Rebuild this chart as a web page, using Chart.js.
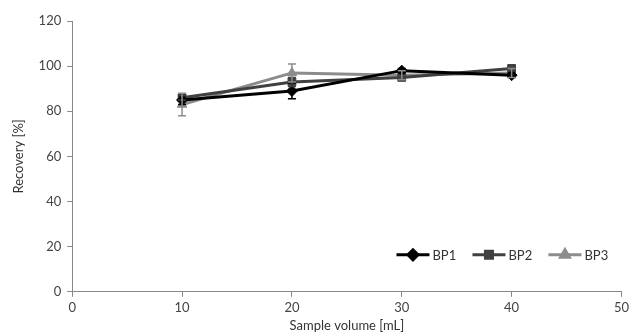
<!DOCTYPE html>
<html>
<head>
<meta charset="utf-8">
<script src="https://cdn.jsdelivr.net/npm/chart.js@4/dist/chart.umd.min.js"></script>
<style>
  html, body { margin: 0; padding: 0; background: #fff; }
  #wrap { width: 632px; height: 336px; }
</style>
</head>
<body>
<div id="wrap"><canvas id="recovery_chart" width="632" height="336"></canvas></div>
<script>
var volumes = [10, 20, 30, 40];
var seriesNames = ['BP1', 'BP2', 'BP3'];
var bp1 = [85, 89, 98, 96];
var bp2 = [86, 93, 95, 99];
var bp3 = [83, 97, 96, 97];
var bp1Err = [2, 3.5, 1, 1];
var bp2Err = [1, 2, 1, 1];
var bp3Err = [5, 4, 2, 2];
var xTicks = [0, 10, 20, 30, 40, 50];
var yTicks = [0, 20, 40, 60, 80, 100, 120];

var colors = ['#000000', '#404040', '#8c8c8c'];
var markers = ['rectRot', 'rect', 'triangle'];
var values = [bp1, bp2, bp3];
var errors = [bp1Err, bp2Err, bp3Err];

function toPoints(arr) {
    return volumes.map(function (v, i) { return { x: v, y: arr[i] }; });
}

// error bars drawn through the scales
var errorBars = {
    id: 'errorBars',
    afterDatasetsDraw: function (chart) {
        var ctx = chart.ctx;
        var xs = chart.scales.x, ys = chart.scales.y;
        ctx.save();
        chart.data.datasets.forEach(function (ds, di) {
            ctx.strokeStyle = colors[di];
            ctx.lineWidth = 1.5;
            ds.data.forEach(function (p, i) {
                var e = errors[di][i];
                var px = xs.getPixelForValue(p.x);
                var top = ys.getPixelForValue(p.y + e);
                var bot = ys.getPixelForValue(p.y - e);
                ctx.beginPath();
                ctx.moveTo(px, top); ctx.lineTo(px, bot);
                ctx.moveTo(px - 4, top); ctx.lineTo(px + 4, top);
                ctx.moveTo(px - 4, bot); ctx.lineTo(px + 4, bot);
                ctx.stroke();
            });
        });
        ctx.restore();
    }
};

// legend inside the plot, bottom right
var insideLegend = {
    id: 'insideLegend',
    afterDraw: function (chart) {
        var ctx = chart.ctx;
        var area = chart.chartArea;
        var y = area.bottom - 37;
        ctx.save();
        ctx.font = '13px Lato';
        ctx.textBaseline = 'middle';
        seriesNames.forEach(function (name, i) {
            var x0 = area.right - 225 + i * 76;
            ctx.strokeStyle = colors[i];
            ctx.lineWidth = 3;
            ctx.beginPath();
            ctx.moveTo(x0, y); ctx.lineTo(x0 + 33, y);
            ctx.stroke();
            Chart.helpers.drawPoint(ctx, {
                pointStyle: markers[i], radius: 5, rotation: 0, borderWidth: 1
            }, x0 + 16.5, y);
            ctx.fillStyle = colors[i];
            ctx.fill();
            ctx.fillStyle = '#333';
            ctx.fillText(name, x0 + 36, y + 1);
        });
        ctx.restore();
    }
};

var datasets = seriesNames.map(function (name, i) {
    return {
        label: name,
        data: toPoints(values[i]),
        borderColor: colors[i],
        backgroundColor: colors[i],
        borderWidth: 3,
        pointStyle: markers[i],
        pointRadius: 5.5,
        pointBorderWidth: 1,
        tension: 0
    };
});

var ctx = document.getElementById('recovery_chart').getContext('2d');
var chart = new Chart(ctx, {
    type: 'line',
    data: { datasets: datasets },
    plugins: [errorBars, insideLegend],
    options: {
        responsive: false,
        animation: false,
        layout: { padding: { top: 21, right: 8, left: 11, bottom: 0 } },
        plugins: {
            legend: { display: false },
            tooltip: { enabled: false }
        },
        scales: {
            x: {
                type: 'linear',
                min: 0,
                max: 50,
                afterBuildTicks: function (axis) {
                    axis.ticks = xTicks.map(function (v) { return { value: v }; });
                },
                grid: { drawOnChartArea: false, color: '#888', tickLength: 5, tickColor: '#888' },
                border: { color: '#888', width: 1 },
                ticks: { color: '#444', font: { family: 'Lato', size: 13 }, padding: 3, maxRotation: 0 },
                title: { display: true, text: 'Sample volume [mL]', color: '#333', font: { family: 'Lato', size: 13 }, padding: { top: 0, bottom: 2 } }
            },
            y: {
                min: 0,
                max: 120,
                afterBuildTicks: function (axis) {
                    axis.ticks = yTicks.map(function (v) { return { value: v }; });
                },
                grid: { drawOnChartArea: false, color: '#888', tickLength: 5, tickColor: '#888' },
                border: { color: '#888', width: 1 },
                ticks: { color: '#444', font: { family: 'Lato', size: 13 }, padding: 6 },
                title: { display: true, text: 'Recovery [%]', color: '#333', font: { family: 'Lato', size: 13 }, padding: { top: 0, bottom: 6 } }
            }
        }
    }
});
</script>
</body>
</html>
